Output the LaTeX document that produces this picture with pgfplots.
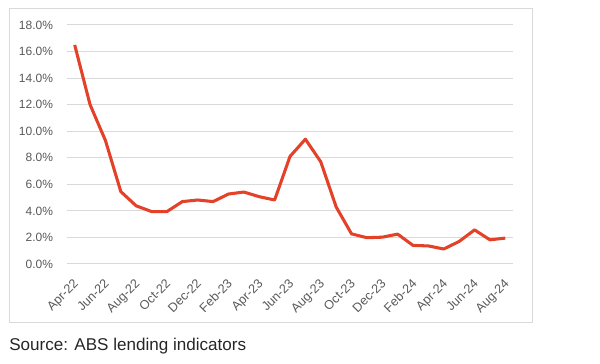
\documentclass[border=0pt]{standalone}
\usepackage{pgfplots}
\pgfplotsset{compat=1.18}
\usepackage{fontspec}
\setmainfont{Liberation Sans}
\definecolor{linered}{RGB}{228,66,40}
\definecolor{gridgray}{RGB}{217,217,217}
\definecolor{labelgray}{RGB}{89,89,89}
\begin{document}
\begin{tikzpicture}
\path[use as bounding box] (0pt,0pt) rectangle (450pt,273pt);
\draw[gridgray, line width=0.75pt] (6.75pt,30.75pt) rectangle (399pt,266.25pt);
\node[anchor=base west, inner sep=0pt, text=black!85, font=\fontsize{12.8}{14}\selectfont] at (6.75pt,10.1pt) {Source: ABS lending indicators};
\begin{axis}[
  at={(50.25pt,75pt)}, anchor=south west,
  scale only axis, width=334.5pt, height=179.25pt,
  xmin=-0.5, xmax=28.5, ymin=0, ymax=18,
  ytick={0,2,...,18},
  yticklabel={\pgfmathprintnumber[fixed,fixed zerofill,precision=1]{\tick}\%},
  /pgf/number format/assume math mode=true,
  xtick={0,2,...,28},
  xticklabels={Apr-22,Jun-22,Aug-22,Oct-22,Dec-22,Feb-23,Apr-23,Jun-23,Aug-23,Oct-23,Dec-23,Feb-24,Apr-24,Jun-24,Aug-24},
  axis line style={draw=none},
  major tick length=0pt,
  ymajorgrids,
  grid style={gridgray, line width=0.75pt},
  tick label style={font=\fontsize{9}{10}\selectfont, text=labelgray},
  yticklabel style={xshift=-7pt},
  xticklabel style={font=\fontsize{9.5}{10}\selectfont, xshift=-1.5pt, yshift=-9pt, rotate=45, anchor=north east, inner sep=1pt},
  clip=false,
]
\addplot[linered, line width=2.3pt, line join=round] coordinates {
(0,16.5) (1,12.0) (2,9.3) (3,5.45) (4,4.38) (5,3.95) (6,3.95) (7,4.7) (8,4.82) (9,4.7)
(10,5.27) (11,5.42) (12,5.07) (13,4.82) (14,8.1) (15,9.4) (16,7.7) (17,4.3) (18,2.27) (19,1.98)
(20,2.02) (21,2.25) (22,1.4) (23,1.36) (24,1.13) (25,1.7) (26,2.57) (27,1.82) (28,1.95)
};
\end{axis}
\end{tikzpicture}
\end{document}
